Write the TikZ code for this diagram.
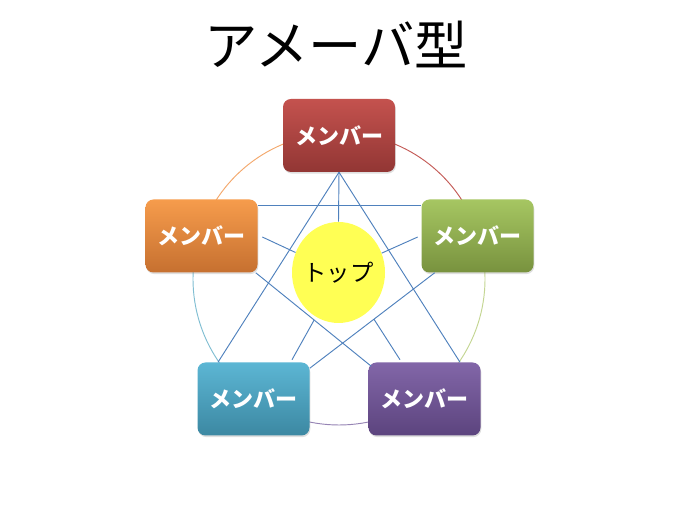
\documentclass[tikz,border=0pt]{standalone}
\usepackage{fontspec}
\newfontfamily\jp{Noto Sans CJK JP}
\usetikzlibrary{calc,shadows,shapes.geometric}
\definecolor{redTop}{RGB}{196,82,78}
\definecolor{redBot}{RGB}{146,54,52}
\definecolor{greenTop}{RGB}{166,198,98}
\definecolor{greenBot}{RGB}{120,146,62}
\definecolor{purpleTop}{RGB}{130,102,168}
\definecolor{purpleBot}{RGB}{92,68,126}
\definecolor{blueTop}{RGB}{92,182,212}
\definecolor{blueBot}{RGB}{60,136,162}
\definecolor{orangeTop}{RGB}{246,156,76}
\definecolor{orangeBot}{RGB}{198,112,48}
\definecolor{arcRed}{RGB}{196,90,86}
\definecolor{arcGreen}{RGB}{196,214,146}
\definecolor{arcPurple}{RGB}{150,132,180}
\definecolor{arcBlue}{RGB}{128,190,210}
\definecolor{arcOrange}{RGB}{244,168,108}
\definecolor{linkBlue}{RGB}{79,129,189}
\definecolor{hubYellow}{RGB}{255,255,84}

\begin{document}
\begin{tikzpicture}[x=0.75pt,y=0.75pt,
    member/.style={rounded corners=6pt, minimum width=84pt, minimum height=54.75pt,
      inner sep=0pt, text=white, font={\jp\bfseries\fontsize{16.5}{19}\selectfont},
      drop shadow={shadow xshift=0.6pt, shadow yshift=-1.2pt, opacity=0.25}},
    link/.style={linkBlue, line width=0.7pt}]
    \useasboundingbox[fill=white] (0,0) rectangle (700,506);
    \node[font={\jp\fontsize{40}{46}\selectfont}] (title) at (336.5,462) {アメーバ型};
    \coordinate (ring) at (339,227);
    % ring behind the members
    \foreach \a/\c in {90/arcRed, 18/arcGreen, -54/arcPurple, -126/arcBlue, 162/arcOrange}
        \draw[\c, line width=0.7pt] ($(ring)+(\a:146)$) arc[start angle=\a, delta angle=-72, radius=146];
    % members
    \path (339,370.5) node[member, top color=redTop, bottom color=redBot] (mTop) {メンバー};
    \path (477.5,270) node[member, top color=greenTop, bottom color=greenBot] (mRight) {メンバー};
    \path (424.5,107) node[member, top color=purpleTop, bottom color=purpleBot] (mBR) {メンバー};
    \path (253.5,107) node[member, top color=blueTop, bottom color=blueBot] (mBL) {メンバー};
    \path (201.5,270) node[member, top color=orangeTop, bottom color=orangeBot] (mLeft) {メンバー};
    \node[ellipse, fill=hubYellow, minimum width=69.75pt, minimum height=75.75pt, inner sep=0pt,
        inner xsep=-4pt, font={\jp\fontsize{17.5}{20}\selectfont}] (hub) at (338.5,233.5) {トップ};
    % links
    \draw[link] (mTop.south) -- ($(mBL.north)+(-35.5,0)$);
    \draw[link] (mTop.south) -- ($(mBR.north)+(35.5,0)$);
    \draw[link] (mTop.south) -- (hub.north);
    \draw[link] ($(mLeft.north east)+(0,-6)$) -- ($(mRight.north west)+(0,-6)$);
    \draw[link] ($(mLeft.east)+(4.5,-1)$) -- (hub);
    \draw[link] ($(mRight.west)+(-3.5,-1)$) -- (hub);
    \draw[link] ($(mLeft.south east)+(-2,0)$) -- ($(mBR.north west)+(3,-4)$);
    \draw[link] ($(mRight.south west)+(13.5,0)$) -- ($(mBL.north east)+(0,-6)$);
    \draw[link] ($(mBL.north)+(38.5,2.5)$) -- ($(hub.south)+(-24.5,3)$);
    \draw[link] ($(mBR.north)+(-24.5,2.5)$) -- ($(hub.south)+(35.5,4)$);
\end{tikzpicture}
\end{document}
